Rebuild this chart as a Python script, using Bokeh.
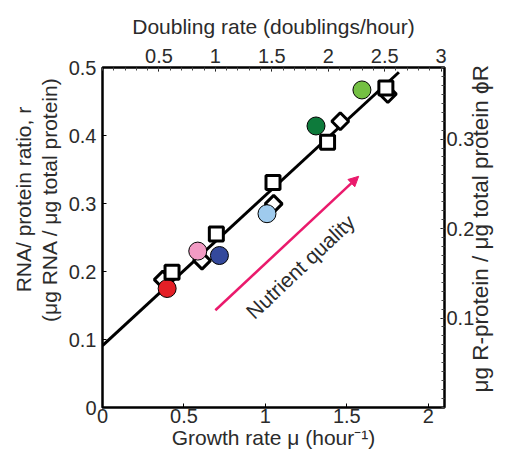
import numpy as np
from bokeh.plotting import figure
from bokeh.models import Range1d, LinearAxis, Label, Arrow, NormalHead, FixedTicker
from bokeh.embed import file_html
from bokeh.resources import INLINE

# ---------------- data ----------------
sq_mu = [0.427, 0.699, 1.047, 1.382, 1.740]
sq_r = [0.199, 0.255, 0.331, 0.390, 0.470]
dm_mu = [0.37, 0.611, 1.051, 1.460, 1.752]
dm_r = [0.188, 0.216, 0.2995, 0.421, 0.461]
ci_mu = [0.397, 0.585, 0.718, 1.010, 1.311, 1.593]
ci_r = [0.175, 0.230, 0.2235, 0.285, 0.414, 0.467]
ci_colors = ["#e41f26", "#f29bc4", "#34499c", "#9fcbee", "#0d7a3b", "#74c043"]
fit_mu = [0.0, 1.82]
fit_r = [0.091, 0.493]
arrow_mu = [0.693, 1.573]
arrow_r = [0.143, 0.340]
x_ticks = [0, 0.5, 1, 1.5, 2]
y_ticks = [0, 0.1, 0.2, 0.3, 0.4, 0.5]
top_ticks = [0.5, 1, 1.5, 2, 2.5, 3]
right_ticks = [0.1, 0.2, 0.3]
rho = 0.76          # phi_R = rho * r
ln2 = np.log(2)     # doubling rate = mu / ln2
right_title = "\u03bcg R-protein / \u03bcg total protein \u03d5R"
right_title_start = 0.022   # where the right-hand title begins (in r units)

FONT = "Liberation Sans"
TXT = "#2b2b2b"
TICK_FS = "20px"
LAB_FS = "21px"
NB = "\u00a0"

p = figure(width=509, height=460, x_range=Range1d(0, 2.1), y_range=Range1d(0, 0.5),
           output_backend="svg", toolbar_location=None,
           min_border_left=102, min_border_right=65, min_border_top=67, min_border_bottom=53)
p.grid.visible = False
p.outline_line_color = "black"
p.outline_line_width = 2.5
p.background_fill_color = "white"
p.border_fill_color = "white"

bottom = p.below[0]
left = p.left[0]

p.extra_x_ranges = {"dbl": Range1d(0, 2.1 / ln2)}
p.extra_y_ranges = {"phi": Range1d(0, 0.5 * rho)}

top = LinearAxis(x_range_name="dbl",
                 ticker=FixedTicker(ticks=top_ticks, minor_ticks=[i / 10 for i in range(0, 31)]))
right = LinearAxis(y_range_name="phi",
                   ticker=FixedTicker(ticks=right_ticks, minor_ticks=[i / 100 for i in range(0, 39)]))
left_outer = LinearAxis(ticker=FixedTicker(ticks=[]))
# label-only axis on the right: a single rotated tick label carries the title
right_outer = LinearAxis(ticker=FixedTicker(ticks=[right_title_start]))
p.add_layout(top, "above")
p.add_layout(right, "right")
p.add_layout(right_outer, "right")
p.add_layout(left_outer, "left")

bottom.ticker = FixedTicker(ticks=x_ticks)
left.ticker = FixedTicker(ticks=y_ticks)

for ax in [bottom, left, top, right, left_outer, right_outer]:
    ax.axis_line_color = None
    ax.major_tick_in = 4
    ax.major_tick_out = 0
    ax.major_tick_line_color = "black"
    ax.major_tick_line_width = 1
    ax.major_label_text_font = FONT
    ax.major_label_text_font_size = TICK_FS
    ax.major_label_text_color = TXT
    ax.axis_label_text_font = FONT
    ax.axis_label_text_font_size = LAB_FS
    ax.axis_label_text_font_style = "normal"
    ax.axis_label_text_color = TXT
for ax in [bottom, left, left_outer, right_outer]:
    ax.minor_tick_line_color = None
left_outer.major_tick_line_color = None
right_outer.major_tick_line_color = None
for ax in [top, right]:
    ax.minor_tick_in = 3
    ax.minor_tick_out = 0
    ax.minor_tick_line_color = "#444444"
    ax.minor_tick_line_width = 1

left.major_label_standoff = 6
bottom.major_label_standoff = 1
top.major_label_standoff = 5
right.major_label_standoff = 2

bottom.major_label_overrides = {0: "0", 1: "1", 2: "2"}
left.major_label_overrides = {0: "0"}
top.major_label_overrides = {1: "1", 2: "2", 3: "3"}

right_outer.major_label_overrides = {right_title_start: right_title}
right_outer.major_label_orientation = np.pi / 2
right_outer.major_label_text_font_size = "22.5px"
right_outer.major_label_standoff = 3

# axis titles
top.axis_label = "Doubling rate (doublings/hour)"
top.axis_label_standoff = 8
bottom.axis_label = "Growth rate \u03bc (hour\u207b\u00b9)"
bottom.axis_label_standoff = 0
left.axis_label = NB * 13 + "(\u03bcg RNA / \u03bcg total protein)"
left.axis_label_standoff = 5
left_outer.axis_label = NB * 13 + "RNA/ protein ratio, r"
left_outer.axis_label_standoff = 0

# ---------------- marks ----------------
p.line(fit_mu, fit_r, line_color="black", line_width=3)
p.scatter(dm_mu, dm_r, marker="square", angle=np.pi / 4, size=12,
          fill_color="white", line_color="black", line_width=3)
p.scatter(ci_mu, ci_r, marker="circle", size=18,
          fill_color=ci_colors, line_color="black", line_width=1)
p.scatter(sq_mu, sq_r, marker="square", size=14,
          fill_color="white", line_color="black", line_width=3)

ARW = "#ea1a6c"
p.add_layout(Arrow(end=NormalHead(size=10, fill_color=ARW, line_color=ARW, line_width=1),
                   x_start=arrow_mu[0], y_start=arrow_r[0], x_end=arrow_mu[1], y_end=arrow_r[1],
                   line_color=ARW, line_width=2.5))

p.add_layout(Label(x=1.215, y=0.207, text="Nutrient quality", angle=0.757,
                   text_align="center", text_baseline="middle",
                   text_font=FONT, text_font_size=LAB_FS, text_color=TXT))

open("out.html", "w").write(file_html(p, INLINE))
